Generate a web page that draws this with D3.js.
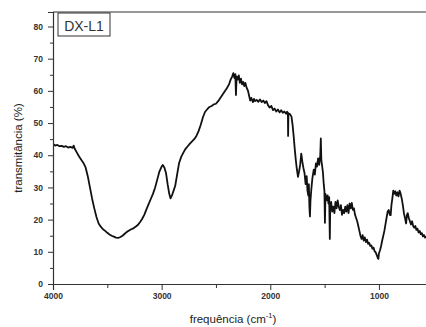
<!DOCTYPE html>
<html><head><meta charset="utf-8">
<script src="https://cdn.jsdelivr.net/npm/d3@7"></script>
<style>body{margin:0;background:#fff}svg{display:block}</style>
</head><body>
<script>
const wavenumber = [4000,3980,3960,3940,3920,3900,3880,3860,3840,3820,3810,3800,3780,3760,3740,3720,3700,3680,3660,3640,3620,3600,3580,3560,3540,3520,3500,3480,3460,3440,3420,3400,3380,3360,3340,3320,3300,3280,3260,3240,3220,3200,3180,3160,3140,3120,3100,3080,3060,3040,3020,3000,2990,2975,2960,2945,2930,2918,2905,2890,2875,2860,2840,2820,2800,2780,2760,2740,2720,2700,2680,2660,2640,2620,2600,2580,2560,2540,2520,2500,2480,2460,2440,2420,2400,2380,2365,2350,2340,2330,2322,2316,2310,2300,2290,2280,2270,2260,2250,2240,2230,2218,2205,2195,2185,2175,2160,2150,2140,2125,2110,2095,2080,2065,2050,2035,2020,2005,1990,1975,1960,1945,1930,1915,1900,1885,1870,1855,1845,1838,1836,1833,1820,1805,1795,1785,1775,1765,1755,1745,1735,1725,1715,1705,1695,1685,1675,1665,1658,1650,1645,1640,1635,1630,1622,1612,1600,1590,1580,1570,1560,1550,1540,1535,1530,1522,1515,1508,1502,1497,1492,1482,1472,1465,1458,1452,1448,1440,1430,1420,1410,1400,1390,1380,1370,1360,1350,1340,1330,1320,1310,1300,1290,1280,1270,1260,1250,1240,1230,1220,1210,1200,1190,1180,1170,1160,1150,1140,1130,1120,1110,1100,1090,1080,1070,1060,1050,1040,1030,1020,1010,1005,1000,990,980,970,960,950,940,930,920,910,900,892,885,875,868,860,850,840,830,820,810,800,790,780,770,760,750,742,735,725,715,705,695,685,675,665,655,645,635,625,615,605,595,585,575,565];
const transmittance = [43.5,43.0,43.2,42.8,42.9,42.6,42.8,42.4,42.6,42.3,43.0,42.0,40.8,39.6,38.6,37.6,36.2,33.5,30.0,26.5,23.5,20.8,18.8,17.8,17.0,16.5,15.9,15.4,15.0,14.7,14.4,14.3,14.6,15.0,15.6,16.2,16.6,17.0,17.3,17.8,18.3,19.2,20.2,21.5,23.2,24.8,26.4,28.0,30.0,32.5,35.0,36.5,37.0,36.2,34.5,31.0,28.0,26.6,27.5,29.0,30.5,33.5,37.5,39.5,40.8,42.0,42.8,43.6,44.3,45.0,46.0,47.5,49.5,51.8,53.5,54.3,55.0,55.3,55.8,56.0,56.8,57.8,58.8,59.8,60.8,62.0,63.5,64.5,65.5,64.0,65.2,58.7,64.5,63.5,64.8,62.5,63.8,62.0,62.8,61.5,62.5,61.0,60.0,58.5,57.0,57.8,56.5,57.5,56.8,57.2,56.6,57.3,56.5,57.0,56.2,56.8,55.5,54.8,55.3,54.0,54.5,53.6,54.2,53.3,54.0,53.2,53.6,52.9,53.5,53.2,46.0,53.0,52.8,52.0,49.5,46.0,42.0,38.5,35.5,33.3,35.0,37.0,40.5,38.0,36.0,34.5,31.0,33.5,29.0,27.5,31.0,24.0,21.0,26.0,29.5,33.0,35.5,34.0,37.5,36.5,39.0,37.0,40.0,45.2,38.5,36.5,34.5,31.0,29.0,19.0,28.0,26.0,27.5,25.0,27.0,14.0,24.5,25.5,22.5,24.0,22.0,25.5,23.5,26.0,24.0,23.0,24.5,21.5,23.0,22.0,24.0,22.5,24.5,22.0,25.0,23.5,25.2,23.0,23.5,21.5,20.5,19.5,18.0,16.5,15.0,14.0,15.2,13.5,14.5,13.0,13.8,12.5,12.8,11.8,12.0,11.0,11.3,10.2,9.8,9.0,8.0,7.8,9.5,10.5,11.8,13.5,15.0,16.5,18.5,20.5,22.5,23.0,21.5,21.4,24.5,27.0,29.0,28.0,28.8,27.5,28.5,27.2,29.0,28.0,26.5,24.5,22.0,20.5,18.8,21.5,22.0,20.5,19.5,18.5,19.5,18.0,17.5,18.0,16.8,17.2,16.0,16.5,15.5,15.8,14.8,15.2,14.4,14.8];
const xTicks = [4000,3000,2000,1000];
const xMinorTicks = [3500,2500,1500];
const yTicks = [0,10,20,30,40,50,60,70,80];
const yMinorTicks = [5,15,25,35,45,55,65,75];
const legendLabel = "DX-L1";

const W = 426, H = 327;
const L = 53, T = 12, R = 430, B = 284;
const svg = d3.select("body").append("svg").attr("width", W).attr("height", H)
  .style("font-family", "Arial, 'Liberation Sans', sans-serif");

const x = d3.scaleLinear().domain([4000, 530]).range([L, R]);
const y = d3.scaleLinear().domain([0, 84.5]).range([B, T]);

svg.append("defs").append("clipPath").attr("id","clip")
  .append("rect").attr("x", L).attr("y", T).attr("width", R - L).attr("height", B - T);

const data = wavenumber.map((w, i) => [w, transmittance[i]]);
svg.append("path").datum(data)
  .attr("clip-path", "url(#clip)")
  .attr("fill", "none").attr("stroke", "#111").attr("stroke-width", 1.8)
  .attr("stroke-linejoin", "round")
  .attr("d", d3.line().x(d => x(d[0])).y(d => y(d[1])));

// axes
const xAxis = svg.append("g").attr("transform", `translate(0,${B})`)
  .call(d3.axisBottom(x).tickValues(xTicks).tickSize(6).tickPadding(3).tickFormat(d3.format("d")));
const xMinor = svg.append("g").attr("transform", `translate(0,${B})`)
  .call(d3.axisBottom(x).tickValues(xMinorTicks).tickSize(4).tickFormat(""));
const yAxis = svg.append("g").attr("transform", `translate(${L},0)`)
  .call(d3.axisLeft(y).tickValues(yTicks).tickSize(5).tickPadding(5));
const yMinor = svg.append("g").attr("transform", `translate(${L},0)`)
  .call(d3.axisLeft(y).tickValues(yMinorTicks).tickSize(3).tickFormat(""));

[xAxis, xMinor, yAxis, yMinor].forEach(g => {
  g.select(".domain").attr("stroke", "#333").attr("stroke-width", 1.2);
  g.selectAll(".tick line").attr("stroke", "#333").attr("stroke-width", 1);
  g.selectAll(".tick text").attr("fill", "#333").style("font-size", "8.5px").style("font-weight", "bold");
});
xMinor.select(".domain").remove();
yMinor.select(".domain").remove();

// top border
svg.append("line").attr("x1", L).attr("x2", R).attr("y1", T).attr("y2", T)
  .attr("stroke", "#333").attr("stroke-width", 1.2);

// axis titles
const xt = svg.append("text").attr("x", 233).attr("y", 323).attr("text-anchor", "middle")
  .attr("fill", "#222").style("font-size", "11.5px");
xt.append("tspan").text("frequência (cm");
xt.append("tspan").attr("dy", -5).style("font-size", "7.5px").text("-1");
xt.append("tspan").attr("dy", 5).text(")");

svg.append("text").attr("transform", `translate(22,${(T + B) / 2}) rotate(-90)`)
  .attr("text-anchor", "middle").attr("fill", "#222").style("font-size", "11.5px")
  .text("transmitância (%)");

// legend box
svg.append("rect").attr("x", 58).attr("y", 13).attr("width", 52).attr("height", 23)
  .attr("fill", "#fff").attr("stroke", "#333").attr("stroke-width", 1);
svg.append("text").attr("x", 84).attr("y", 30.5).attr("text-anchor", "middle")
  .attr("fill", "#333").style("font-size", "14px").text(legendLabel);
</script>
</body></html>
